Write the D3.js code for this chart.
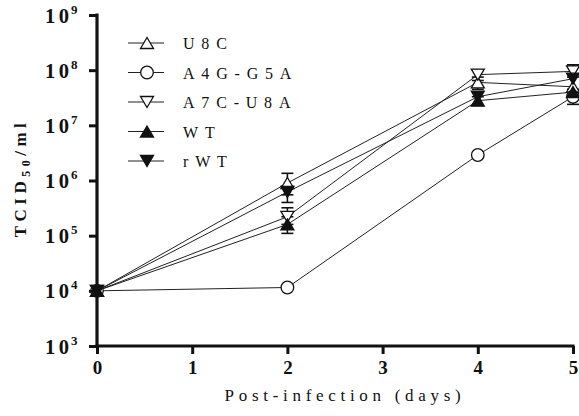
<!DOCTYPE html>
<html><head><meta charset="utf-8">
<script src="https://cdn.jsdelivr.net/npm/d3@7"></script>
<style>body{margin:0;background:#fff}svg{display:block}</style>
</head><body>
<svg id="c" width="579" height="416"></svg>
<script>
const days = [0, 2, 4, 5];
const xTicks = [0, 1, 2, 3, 4, 5];
const yTicks = [3, 4, 5, 6, 7, 8, 9];
const seriesNames = ["U8C", "A4G-G5A", "A7C-U8A", "WT", "rWT"];
const seriesShapes = ["up", "circle", "down", "up", "down"];
const seriesFilled = [false, false, false, true, true];
const valU8C = [1e4, 9e5, 6e7, 5e7];
const valA4G = [1e4, 1.15e4, 2.9e6, 3.3e7];
const valA7C = [1e4, 2.2e5, 8.3e7, 9.5e7];
const valWT  = [1e4, 1.6e5, 2.8e7, 4e7];
const valRWT = [1e4, 6.2e5, 3.3e7, 7e7];
const errU8C = [null, [5.5e5, 1.35e6], [4.5e7, 7.5e7], null];
const errA4G = [null, null, null, [2.4e7, 4.5e7]];
const errA7C = [null, [1.6e5, 3.2e5], [6.5e7, 1.0e8], [7.5e7, 1.25e8]];
const errWT  = [null, [1.1e5, 2.2e5], [2.35e7, 3.3e7], null];
const errRWT = [null, [4.0e5, 8.0e5], null, null];
const allVals = [valU8C, valA4G, valA7C, valWT, valRWT];
const allErrs = [errU8C, errA4G, errA7C, errWT, errRWT];

const svg = d3.select("#c");
const x = d3.scaleLinear().domain([0, 5]).range([97, 573]);
const y = d3.scaleLog().domain([1e3, 1e9]).range([346, 15]);
const ink = "#111";

function shapePath(s) {
  const w = 6.5, h = 5.5;
  if (s === "up") return `M0,${-h}L${w},${h}L${-w},${h}Z`;
  if (s === "down") return `M0,${h}L${w},${-h}L${-w},${-h}Z`;
  return d3.symbol(d3.symbolCircle, Math.PI * 6.3 * 6.3)();
}

// series lines
const line = d3.line().x((d, i) => x(days[i])).y(d => y(d));
allVals.forEach(v => {
  svg.append("path").attr("d", line(v)).attr("fill", "none")
    .attr("stroke", "#222").attr("stroke-width", 1);
});
// error bars
allErrs.forEach(errs => {
  errs.forEach((e, i) => {
    if (!e) return;
    const cx = x(days[i]);
    const g = svg.append("g").attr("stroke", ink).attr("stroke-width", 1.6);
    g.append("line").attr("x1", cx).attr("x2", cx).attr("y1", y(e[0])).attr("y2", y(e[1]));
    [e[0], e[1]].forEach(v => g.append("line").attr("x1", cx - 6).attr("x2", cx + 6).attr("y1", y(v)).attr("y2", y(v)));
  });
});
// markers
allVals.forEach((v, si) => {
  v.forEach((d, i) => {
    svg.append("path").attr("d", shapePath(seriesShapes[si]))
      .attr("transform", `translate(${x(days[i])},${y(d)})`)
      .attr("fill", seriesFilled[si] ? ink : "#fff")
      .attr("stroke", ink).attr("stroke-width", 1.3);
  });
});

// axes
const yAxis = d3.axisLeft(y).tickValues(yTicks.map(p => Math.pow(10, p))).tickSize(8).tickFormat("");
const gy = svg.append("g").attr("transform", "translate(97,0)").call(yAxis);
gy.select(".domain").attr("stroke", ink).attr("stroke-width", 3.2).attr("d", "M0,13.5V347.5");
gy.selectAll(".tick line").attr("stroke", ink).attr("stroke-width", 3);
gy.selectAll(".tick").each(function(d) {
  const t = d3.select(this).append("text").attr("x", -52).attr("y", 7)
    .attr("text-anchor", "start")
    .attr("font-family", "Liberation Serif")
    .attr("font-weight", "bold").attr("font-size", 20.5).attr("fill", ink);
  t.append("tspan").text("1");
  t.append("tspan").attr("dx", 3.5).text("0");
  t.append("tspan").attr("dx", 2).attr("dy", -9).attr("font-size", 13)
    .text(Math.round(Math.log10(d)));
});

const xAxis = d3.axisBottom(x).tickValues(xTicks).tickSize(8).tickFormat(d3.format("d"));
const gx = svg.append("g").attr("transform", "translate(0,346)").call(xAxis);
gx.select(".domain").attr("stroke", ink).attr("stroke-width", 3.2).attr("d", "M95.5,0H574.5");
gx.selectAll(".tick line").attr("stroke", ink).attr("stroke-width", 3);
gx.selectAll(".tick text").attr("y", 15).attr("font-family", "Liberation Serif")
  .attr("font-weight", "bold").attr("font-size", 19).attr("fill", ink);

// axis titles
svg.append("text").attr("x", 345).attr("y", 401).attr("text-anchor", "middle")
  .attr("font-family", "Liberation Serif").attr("font-size", 17).attr("fill", ink)
  .attr("letter-spacing", 4.7).text("Post-infection (days)");
const yt = svg.append("text").attr("transform", "translate(26,178) rotate(-90)")
  .attr("text-anchor", "middle").attr("font-family", "Liberation Serif")
  .attr("font-weight", "bold").attr("font-size", 17).attr("fill", ink).attr("letter-spacing", 4.5);
yt.append("tspan").text("TCID");
yt.append("tspan").attr("dy", 4).attr("font-size", 12).text("50");
yt.append("tspan").attr("dy", -4).text("/ml");

// legend
const lg = svg.append("g");
seriesNames.forEach((n, i) => {
  const ly = 43 + i * 29.5;
  lg.append("line").attr("x1", 128).attr("x2", 164).attr("y1", ly).attr("y2", ly)
    .attr("stroke", "#222").attr("stroke-width", 1);
  lg.append("path").attr("d", shapePath(seriesShapes[i]))
    .attr("transform", `translate(147,${ly})`)
    .attr("fill", seriesFilled[i] ? ink : "#fff").attr("stroke", ink).attr("stroke-width", 1.3);
  lg.append("text").attr("x", 183).attr("y", ly + 6).attr("font-family", "Liberation Serif")
    .attr("font-size", 16).attr("fill", ink).attr("letter-spacing", 6.8).text(n);
});
</script>
</body></html>
